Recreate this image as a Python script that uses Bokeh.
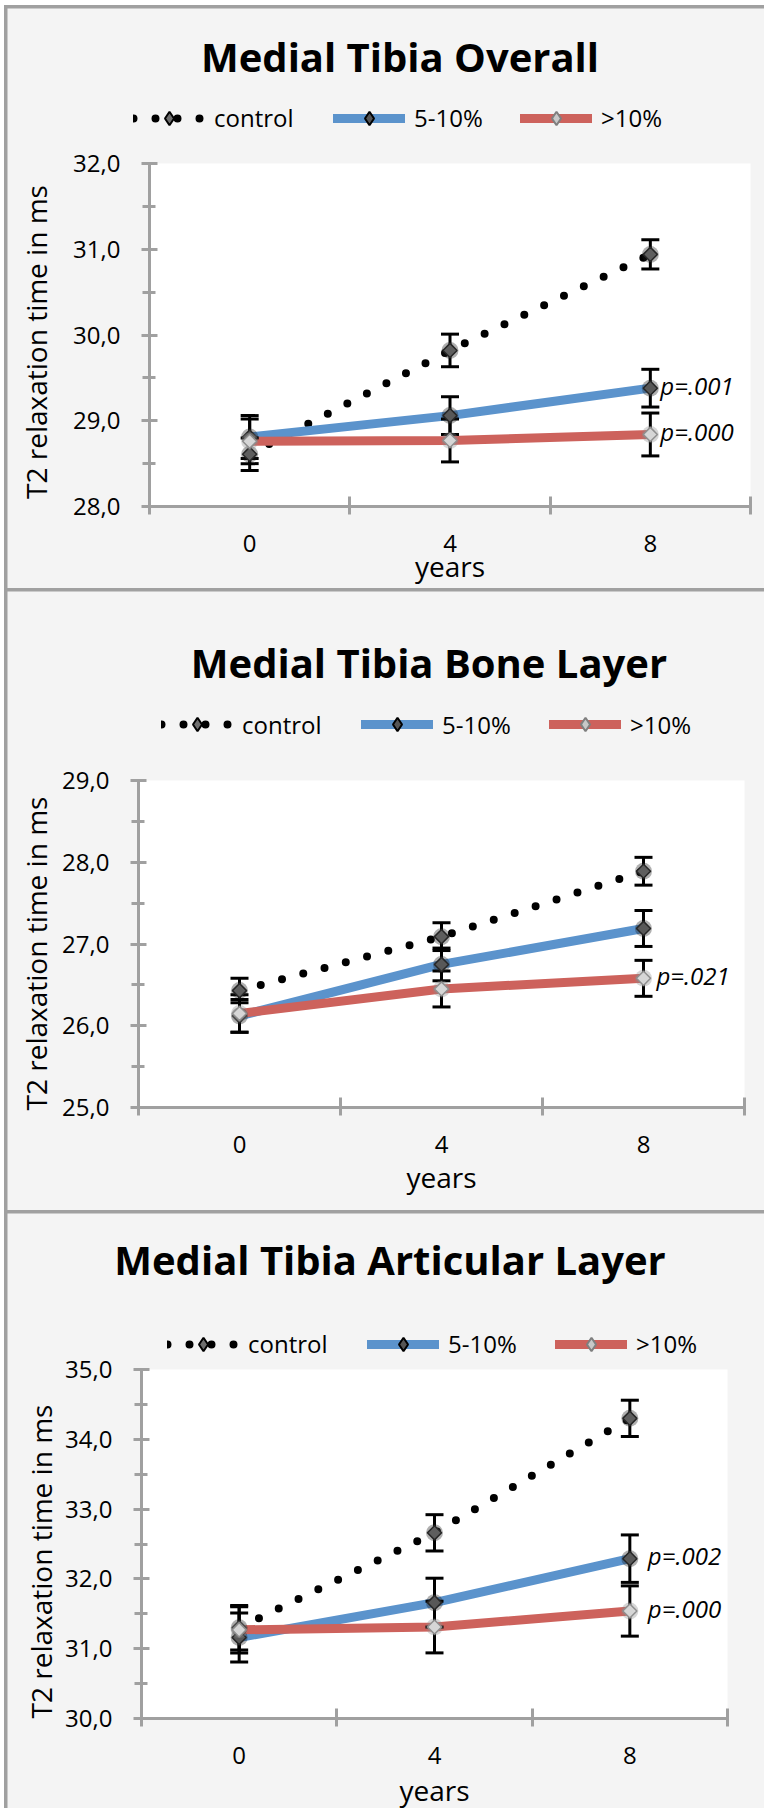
import numpy as np
from bokeh.plotting import figure
from bokeh.models import (ColumnDataSource, FixedTicker, Label, Legend, LegendItem,
                          Range1d, BoxAnnotation)
from bokeh.layouts import column
from bokeh.embed import file_html
from bokeh.resources import INLINE

# ---------------- data ----------------
years = [0, 4, 8]
x_tick_labels = ["0", "4", "8"]
series_names = ["control", "5-10%", ">10%"]

titles = ["Medial Tibia Overall", "Medial Tibia Bone Layer", "Medial Tibia Articular Layer"]
y_title = "T2 relaxation time in ms"
x_title = "years"

# Medial Tibia Overall
overall_control = [28.61, 29.82, 30.94]
overall_control_err = [0.19, 0.19, 0.17]
overall_mod = [28.81, 29.06, 29.38]
overall_mod_err = [0.25, 0.22, 0.22]
overall_sev = [28.76, 28.77, 28.84]
overall_sev_err = [0.26, 0.25, 0.25]
overall_ticks = [28, 29, 30, 31, 32]
overall_tick_labels = ["28,0", "29,0", "30,0", "31,0", "32,0"]
overall_minor = [28.5, 29.5, 30.5, 31.5]
overall_p = [("p=.001", "5-10%"), ("p=.000", ">10%")]

# Medial Tibia Bone Layer
bone_control = [26.43, 27.09, 27.89]
bone_control_err = [0.15, 0.17, 0.17]
bone_mod = [26.12, 26.75, 27.19]
bone_mod_err = [0.20, 0.20, 0.22]
bone_sev = [26.15, 26.45, 26.58]
bone_sev_err = [0.23, 0.22, 0.22]
bone_ticks = [25, 26, 27, 28, 29]
bone_tick_labels = ["25,0", "26,0", "27,0", "28,0", "29,0"]
bone_minor = [25.5, 26.5, 27.5, 28.5]
bone_p = [("p=.021", ">10%")]

# Medial Tibia Articular Layer
art_control = [31.30, 32.66, 34.30]
art_control_err = [0.32, 0.26, 0.26]
art_mod = [31.16, 31.66, 32.29]
art_mod_err = [0.35, 0.35, 0.34]
art_sev = [31.27, 31.31, 31.54]
art_sev_err = [0.33, 0.37, 0.36]
art_ticks = [30, 31, 32, 33, 34, 35]
art_tick_labels = ["30,0", "31,0", "32,0", "33,0", "34,0", "35,0"]
art_minor = [30.5, 31.5, 32.5, 33.5, 34.5]
art_p = [("p=.002", "5-10%"), ("p=.000", ">10%")]

# ---------------- style / layout ----------------
FONT = "Open Sans"
PANEL_BG = "#f4f4f4"
AXIS_GRAY = "#a0a0a0"
BLUE = "#5b93cc"
RED = "#cd625c"
OX = 7            # page x of every figure
FIG_W = 757
X_LO, X_HI = -2, 10
LEG_H = 34

# page-pixel geometry: figure top/height, plot area box, text anchors
geoms = [
    dict(oy=8, h=580, L=149, R=750, T=163, B=506,
         title=(399.5, 55.8), ytitle=(35.5, 341.5), xtitle=565.5,
         leg_x=(133, 333, 520), leg_cy=117.7, p_off=10),
    dict(oy=591, h=619, L=138, R=744, T=780, B=1107,
         title=(428.5, 662), ytitle=(35.5, 953), xtitle=1176,
         leg_x=(161, 361, 549), leg_cy=724.4, p_off=13),
    dict(oy=1213, h=595, L=141, R=727, T=1369, B=1718,
         title=(389.5, 1258.8), ytitle=(40.5, 1561), xtitle=1789.5,
         leg_x=(167, 367, 555), leg_cy=1343.7, p_off=18),
]


def build_panel(title, ctrl, ctrl_err, mod, mod_err, sev, sev_err,
                ticks, tick_labels, minor, plabels, g):
    y_lo, y_hi = ticks[0], ticks[-1]
    L, R, T, B, oy, h = g["L"], g["R"], g["T"], g["B"], g["oy"], g["h"]
    ux = (X_HI - X_LO) / (R - L)
    uy = (y_hi - y_lo) / (B - T)

    def dx(px):
        return X_LO + (px - L) * ux

    def dy(py):
        return y_lo + (B - py) * uy

    p = figure(width=FIG_W, height=h,
               x_range=Range1d(dx(OX), dx(OX + FIG_W)),
               y_range=Range1d(dy(oy + h), dy(oy)),
               output_backend="svg", toolbar_location=None, tools="",
               min_border_left=0, min_border_right=0,
               min_border_top=0, min_border_bottom=0,
               background_fill_color=PANEL_BG, border_fill_color=PANEL_BG,
               outline_line_color=None)
    p.grid.visible = False

    # white plot area
    p.add_layout(BoxAnnotation(left=X_LO, right=X_HI, bottom=y_lo, top=y_hi,
                               fill_color="white", fill_alpha=1.0,
                               line_color=None, level="underlay"))

    # x axis: labels at the years, tick marks between categories
    xa = p.xaxis[0]
    xa.fixed_location = y_lo
    xa.bounds = (X_LO, X_HI)
    xa.ticker = FixedTicker(ticks=years, minor_ticks=[-2, 2, 6, 10])
    xa.major_label_overrides = {k: v for k, v in zip(years, x_tick_labels)}
    xa.major_tick_in = 0
    xa.major_tick_out = 0
    xa.minor_tick_in = 10
    xa.minor_tick_out = 8
    xa.minor_tick_line_width = 3
    xa.minor_tick_line_color = AXIS_GRAY
    xa.axis_line_width = 3
    xa.axis_line_color = AXIS_GRAY
    xa.major_label_standoff = 20
    xa.major_label_text_font = FONT
    xa.major_label_text_font_size = "24px"
    xa.major_label_text_color = "black"

    ya = p.yaxis[0]
    ya.fixed_location = X_LO
    ya.bounds = (y_lo, y_hi)
    ya.ticker = FixedTicker(ticks=ticks, minor_ticks=minor)
    ya.major_label_overrides = {k: v for k, v in zip(ticks, tick_labels)}
    ya.major_tick_in = 8
    ya.major_tick_out = 8
    ya.minor_tick_in = 6
    ya.minor_tick_out = 7
    ya.major_tick_line_width = 3
    ya.minor_tick_line_width = 3
    ya.major_tick_line_color = AXIS_GRAY
    ya.minor_tick_line_color = AXIS_GRAY
    ya.axis_line_width = 3
    ya.axis_line_color = AXIS_GRAY
    ya.major_label_standoff = 21
    ya.major_label_text_font = FONT
    ya.major_label_text_font_size = "24px"
    ya.major_label_text_color = "black"

    def src(vals, errs):
        return ColumnDataSource(dict(
            x=years, y=vals,
            lo=[v - e for v, e in zip(vals, errs)],
            hi=[v + e for v, e in zip(vals, errs)]))

    s_c, s_m, s_s = src(ctrl, ctrl_err), src(mod, mod_err), src(sev, sev_err)

    # lines
    l_c = p.line("x", "y", source=s_c, line_color="black", line_width=8,
                 line_dash="0 22", line_cap="round")
    l_m = p.line("x", "y", source=s_m, line_color=BLUE, line_width=9,
                 line_cap="round", line_join="round")
    l_s = p.line("x", "y", source=s_s, line_color=RED, line_width=9,
                 line_cap="round", line_join="round")

    # error bars
    for s in (s_c, s_m, s_s):
        p.segment(x0="x", y0="lo", x1="x", y1="hi", source=s,
                  line_color="black", line_width=3)
        p.scatter(x="x", y="lo", source=s, marker="dash", size=18,
                  line_color="black", line_width=3)
        p.scatter(x="x", y="hi", source=s, marker="dash", size=18,
                  line_color="black", line_width=3)

    # markers
    styles = [
        (s_c, "#6e6e6e", "black", "#1e1e1e", "#5e5e5e", "#262626"),
        (s_m, "#555555", "black", "#1e1e1e", "#585858", "#262626"),
        (s_s, "#c8c8c8", "#7f7f7f", "#8c8c8c", "#d6d6d6", "#8f8f8f"),
    ]
    diamonds = []
    for s, lf, ll, halo, sf, sl in styles:
        d = p.scatter(x="x", y="y", source=s, marker="diamond", size=9,
                      fill_color=lf, line_color=ll, line_width=2)
        diamonds.append(d)
        p.scatter(x="x", y="y", source=s, marker="circle", size=17,
                  fill_color=halo, fill_alpha=0.35, line_color=None)
        p.scatter(x="x", y="y", source=s, marker="square", angle=np.pi / 4,
                  size=10, fill_color=sf, line_color=sl, line_width=1.5)

    # legend above the plot area: one entry per series, each pinned
    lines = [l_c, l_m, l_s]
    bottom = (oy + h) - (g["leg_cy"] + LEG_H / 2)
    for name, ln, dm, lx in zip(series_names, lines, diamonds, g["leg_x"]):
        legend = Legend(items=[LegendItem(label=name, renderers=[ln, dm])],
                        orientation="horizontal", location=(lx - OX, bottom),
                        glyph_width=72, glyph_height=LEG_H, label_height=LEG_H,
                        label_standoff=9, spacing=0, padding=0, margin=0,
                        border_line_color=None, background_fill_alpha=0,
                        label_text_font=FONT, label_text_font_size="24px",
                        label_text_color="black")
        p.add_layout(legend, "center")

    # texts
    tx, ty = g["title"]
    p.add_layout(Label(x=dx(tx), y=dy(ty), text=title, text_align="center",
                       text_baseline="alphabetic", text_font=FONT,
                       text_font_size="40px", text_font_style="bold",
                       text_color="black"))
    yx, yy = g["ytitle"]
    p.add_layout(Label(x=dx(yx), y=dy(yy), text=y_title, angle=np.pi / 2,
                       text_align="center", text_baseline="alphabetic",
                       text_font=FONT, text_font_size="28px",
                       text_color="black"))
    p.add_layout(Label(x=years[1], y=dy(g["xtitle"]), text=x_title,
                       text_align="center", text_baseline="alphabetic",
                       text_font=FONT, text_font_size="28px",
                       text_color="black"))
    series_vals = {"control": ctrl, "5-10%": mod, ">10%": sev}
    for txt, ser in plabels:
        p.add_layout(Label(x=years[-1], y=series_vals[ser][-1], text=txt,
                           x_offset=g["p_off"], y_offset=3,
                           text_align="left", text_baseline="alphabetic",
                           text_font=FONT, text_font_size="24px",
                           text_font_style="italic", text_color="black"))
    return p


p1 = build_panel(titles[0], overall_control, overall_control_err, overall_mod,
                 overall_mod_err, overall_sev, overall_sev_err, overall_ticks,
                 overall_tick_labels, overall_minor, overall_p, geoms[0])
p2 = build_panel(titles[1], bone_control, bone_control_err, bone_mod,
                 bone_mod_err, bone_sev, bone_sev_err, bone_ticks,
                 bone_tick_labels, bone_minor, bone_p, geoms[1])
p3 = build_panel(titles[2], art_control, art_control_err, art_mod,
                 art_mod_err, art_sev, art_sev_err, art_ticks,
                 art_tick_labels, art_minor, art_p, geoms[2])

roots = [
    column(p1, styles={"background-color": AXIS_GRAY, "padding": "3px 0 0 3px",
                       "margin": "5px 0 0 4px"}),
    column(p2, styles={"background-color": AXIS_GRAY, "padding": "3px 0 0 3px",
                       "margin": "0 0 0 4px"}),
    column(p3, styles={"background-color": AXIS_GRAY, "padding": "3px 0 0 3px",
                       "margin": "0 0 0 4px"}),
]

open("out.html", "w").write(file_html(roots, INLINE))
